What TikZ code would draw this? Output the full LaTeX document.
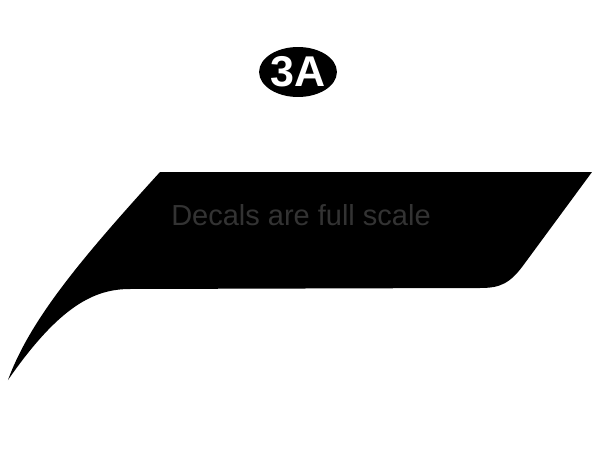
\documentclass[tikz,border=0pt]{standalone}
\usepackage{fontspec}
\setmainfont{Liberation Sans}
\usetikzlibrary{shapes.geometric}
\definecolor{notegray}{HTML}{333333}
\def\px{0.02cm}
\tikzset{badge/.style={ellipse,fill=black,text=white,inner sep=0pt,
      minimum width=1.48cm,minimum height=1cm,
      font=\fontsize{24.5}{24.5}\selectfont\bfseries},
    notetext/.style={text=notegray,inner sep=0pt,
      font=\fontsize{16.5}{16.5}\selectfont}}

\begin{document}
\begin{tikzpicture}[x=\px,y=-\px]
    \useasboundingbox (0,0) rectangle (600,450);
    % decal shape
    \fill[black] (160,172) -- (592,172) -- (525,263)
      .. controls (510,284) and (500,288) .. (480,288) -- (130,289)
      .. controls (95,289) and (60,305) .. (8,380)
      .. controls (30,320) and (80,260) .. (160,172) -- cycle;
    \node[badge] (num) at (298,72) {3A};
    \node[notetext] (note) at (301,215) {Decals are full scale};
  \end{tikzpicture}
\end{document}
